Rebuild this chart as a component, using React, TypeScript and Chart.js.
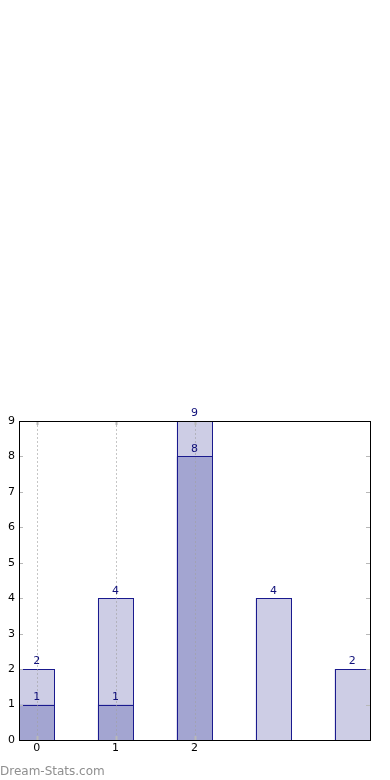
import React, { useEffect, useRef } from "react";
import { Chart, registerables } from "chart.js";

Chart.register(...registerables);

const categories = [0, 1, 2, 3, 4];
const totalCounts = [2, 4, 9, 4, 2];
const subsetCounts = [1, 1, 8, 0, 0];
const xTickValues = [0, 1, 2];
const yMax = 9;

const FONT = "DejaVu Sans";
const LABEL_COLOR = "#10107a";
const EDGE_COLOR = "#1a1a8e";

const overlayPlugin = {
  id: "overlay",
  afterDatasetsDraw(chart: any) {
    const { ctx, chartArea } = chart;
    const xs = chart.scales.x;
    const ys = chart.scales.y;
    ctx.save();
    // crisp bar edges
    ctx.strokeStyle = EDGE_COLOR;
    ctx.lineWidth = 1;
    chart.data.datasets.forEach((ds: any, i: number) => {
      const meta = chart.getDatasetMeta(i);
      meta.data.forEach((el: any, j: number) => {
        if (ds.data[j].y == null) return;
        const l = Math.round(el.x - el.width / 2);
        const r = Math.round(el.x + el.width / 2);
        const t = Math.round(el.y);
        const b = Math.round(el.base);
        ctx.strokeRect(l + 0.5, t + 0.5, r - l, b - t);
      });
    });
    // dotted vertical grid at x ticks (drawn over bars)
    ctx.strokeStyle = "rgba(160,160,160,0.6)";
    ctx.lineWidth = 1;
    ctx.setLineDash([2, 2]);
    xTickValues.forEach((v) => {
      const px = Math.round(xs.getPixelForValue(v)) + 0.5;
      ctx.beginPath();
      ctx.moveTo(px, chartArea.top);
      ctx.lineTo(px, chartArea.bottom);
      ctx.stroke();
    });
    ctx.setLineDash([]);
    // inner tick marks
    ctx.strokeStyle = "#b8b8b8";
    ctx.lineWidth = 1;
    for (let v = 0; v <= yMax; v++) {
      const py = Math.round(ys.getPixelForValue(v)) + 0.5;
      ctx.beginPath();
      ctx.moveTo(chartArea.left, py);
      ctx.lineTo(chartArea.left + 4, py);
      ctx.moveTo(chartArea.right - 4, py);
      ctx.lineTo(chartArea.right, py);
      ctx.stroke();
    }
    xTickValues.forEach((v) => {
      const px = Math.round(xs.getPixelForValue(v)) + 0.5;
      ctx.lineWidth = 2;
      ctx.beginPath();
      ctx.moveTo(px, chartArea.top);
      ctx.lineTo(px, chartArea.top + 4);
      ctx.moveTo(px, chartArea.bottom - 4);
      ctx.lineTo(px, chartArea.bottom);
      ctx.stroke();
    });
    // frame
    ctx.strokeStyle = "#000";
    ctx.lineWidth = 1;
    ctx.strokeRect(
      Math.round(chartArea.left) + 0.5,
      Math.round(chartArea.top) + 0.5,
      Math.round(chartArea.right - chartArea.left),
      Math.round(chartArea.bottom - chartArea.top)
    );
    // value labels
    ctx.fillStyle = LABEL_COLOR;
    ctx.font = `11px '${FONT}'`;
    ctx.textAlign = "center";
    ctx.textBaseline = "bottom";
    chart.data.datasets.forEach((ds: any, i: number) => {
      const meta = chart.getDatasetMeta(i);
      meta.data.forEach((el: any, j: number) => {
        const val = ds.data[j].y;
        if (val == null || val === 0) return;
        ctx.fillText(String(val), el.x, el.y - 2);
      });
    });
    // watermark
    ctx.fillStyle = "#8f8f8f";
    ctx.font = `12px '${FONT}'`;
    ctx.textAlign = "left";
    ctx.textBaseline = "alphabetic";
    ctx.fillText("Dream-Stats.com", 0, 775);
    ctx.restore();
  },
};

export default function App() {
  const ref = useRef<HTMLCanvasElement>(null);
  useEffect(() => {
    if (!ref.current) return;
    const chart = new Chart(ref.current, {
      type: "bar",
      data: {
        datasets: [
          {
            data: categories.map((c, i) => ({ x: c, y: subsetCounts[i] === 0 ? null : subsetCounts[i] })),
            backgroundColor: "#a3a5d1",
            borderWidth: 0,
            grouped: false,
            barPercentage: 0.45,
            categoryPercentage: 1,
          },
          {
            data: categories.map((c, i) => ({ x: c, y: totalCounts[i] })),
            backgroundColor: "#cdcde5",
            borderWidth: 0,
            grouped: false,
            barPercentage: 0.45,
            categoryPercentage: 1,
          },
        ] as any,
      },
      options: {
        animation: false,
        responsive: false,
        maintainAspectRatio: false,
        layout: { padding: { left: 0, right: 20, top: 421, bottom: 20 } },
        plugins: { legend: { display: false }, tooltip: { enabled: false } },
        scales: {
          x: {
            type: "linear",
            min: -0.225,
            max: 4.225,
            offset: false,
            afterBuildTicks: (s: any) => {
              s.ticks = xTickValues.map((v) => ({ value: v }));
            },
            afterFit: (s: any) => {
              s.height = 20;
            },
            ticks: { color: "#000", font: { family: FONT, size: 11 }, padding: 2, autoSkip: false, maxRotation: 0 },
            grid: { display: false, drawTicks: false, tickLength: 0 },
            border: { display: false },
          },
          y: {
            min: 0,
            max: yMax,
            afterFit: (s: any) => {
              s.width = 19;
            },
            ticks: { stepSize: 1, color: "#000", font: { family: FONT, size: 11 }, padding: 4 },
            grid: { display: false, drawTicks: false, tickLength: 0 },
            border: { display: false },
          },
        },
      } as any,
      plugins: [overlayPlugin],
    });
    return () => chart.destroy();
  }, []);
  return (
    <canvas
      ref={ref}
      width={390}
      height={780}
      style={{ position: "absolute", left: 0, top: 0, width: 390, height: 780 }}
    />
  );
}
